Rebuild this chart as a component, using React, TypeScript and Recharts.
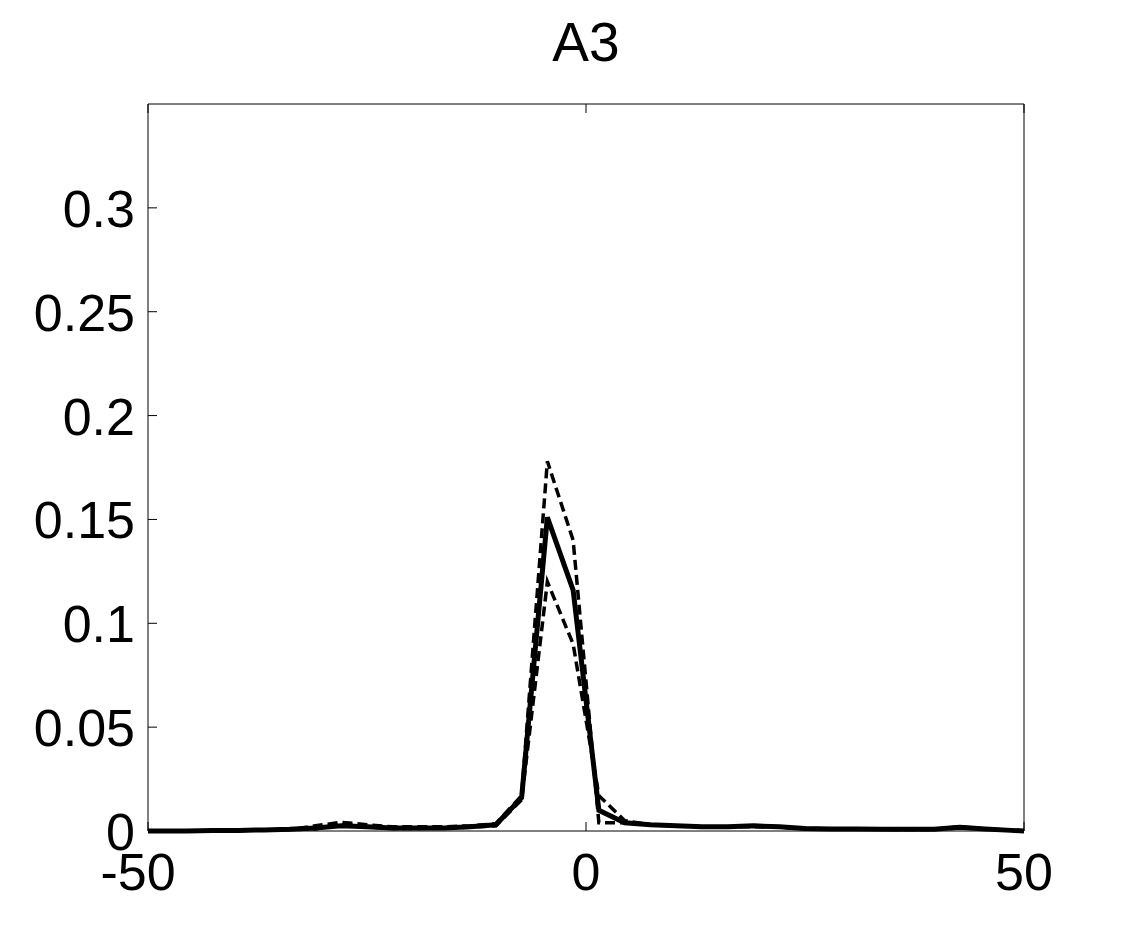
import { LineChart, Line, XAxis, YAxis } from 'recharts'

// sample positions along the x axis
const xs = [
  -50, -48.53, -45.59, -42.65, -39.71, -36.76, -33.82, -30.88, -27.94, -25.0, -22.06,
  -19.12, -16.18, -13.24, -10.29, -7.35, -4.41, -1.47, 1.47, 4.41, 7.35, 10.29, 13.24,
  16.18, 19.12, 22.06, 25.0, 27.94, 30.88, 33.82, 36.76, 39.71, 42.65, 45.59, 48.53, 50,
]

// solid curve
const meanVals = [
  0, 0, 0, 0.0002, 0.0003, 0.0005, 0.0008, 0.0015, 0.0025, 0.002, 0.0015,
  0.0015, 0.0015, 0.002, 0.003, 0.016, 0.151, 0.116, 0.01, 0.004, 0.003, 0.0025, 0.002,
  0.002, 0.0025, 0.002, 0.0012, 0.001, 0.001, 0.0008, 0.0008, 0.0008, 0.0018, 0.001, 0.0003, 0,
]

// dashed curve, higher peak
const upperVals = [
  0, 0, 0, 0.0002, 0.0003, 0.0004, 0.0007, 0.0025, 0.0042, 0.003, 0.002,
  0.002, 0.002, 0.0025, 0.0035, 0.017, 0.178, 0.14, 0.004, 0.004, 0.003, 0.0025, 0.002,
  0.002, 0.002, 0.0018, 0.001, 0.001, 0.0008, 0.0008, 0.0007, 0.0007, 0.0015, 0.001, 0.0003, 0,
]

// dashed curve, lower peak
const lowerVals = [
  0, 0, 0, 0.0002, 0.0003, 0.0005, 0.001, 0.001, 0.0035, 0.002, 0.0012,
  0.0012, 0.0015, 0.0018, 0.0025, 0.015, 0.12, 0.09, 0.017, 0.005, 0.003, 0.0025, 0.002,
  0.002, 0.0025, 0.002, 0.0012, 0.001, 0.001, 0.0008, 0.0008, 0.0008, 0.002, 0.001, 0.0003, 0,
]

const xTicks = [-50, 0, 50]
const yTicks = [0, 0.05, 0.1, 0.15, 0.2, 0.25, 0.3]
const yTickLabels = ['0', '0.05', '0.1', '0.15', '0.2', '0.25', '0.3']

const FONT = '"Liberation Sans", Arial, Helvetica, sans-serif'
const TICK_LEN = 9

const rows = xs.map((x, i) => ({
  x,
  mean: meanVals[i],
  upper: upperVals[i],
  lower: lowerVals[i],
}))

const BottomTick = ({ x, y, payload }: any) => (
  <g>
    <line x1={x} x2={x} y1={y} y2={y - TICK_LEN} stroke="#000" />
    <text
      x={payload.value < 0 ? x - 10 : x}
      y={y + 59}
      textAnchor="middle"
      fontSize={52}
      fontFamily={FONT}
      fill="#000"
    >
      {payload.value}
    </text>
  </g>
)

const TopTick = ({ x, y }: any) => (
  <line x1={x} x2={x} y1={y} y2={y + TICK_LEN} stroke="#000" />
)

const LeftTick = ({ x, y, payload }: any) => {
  const idx = yTicks.indexOf(payload.value)
  return (
    <g>
      <line x1={x} x2={x + TICK_LEN} y1={y} y2={y} stroke="#000" />
      <text
        x={x - 13}
        y={y + 19}
        textAnchor="end"
        fontSize={52}
        fontFamily={FONT}
        fill="#000"
      >
        {idx >= 0 ? yTickLabels[idx] : payload.value}
      </text>
    </g>
  )
}

const RightTick = ({ x, y }: any) => (
  <line x1={x} x2={x - TICK_LEN} y1={y} y2={y} stroke="#000" />
)

export default function App() {
  return (
    <div style={{ position: 'relative', width: 1132, height: 936, background: '#fff' }}>
      <style>{'body{margin:0;background:#fff}'}</style>
      <div
        style={{
          position: 'absolute',
          top: 15,
          left: 0,
          width: 1172,
          textAlign: 'center',
          fontFamily: FONT,
          fontSize: 55,
          lineHeight: '55px',
          color: '#000',
        }}
      >
        A3
      </div>
      <LineChart
        width={1132}
        height={936}
        data={rows}
        margin={{ top: 103, right: 100, bottom: 104, left: 0 }}
      >
        <XAxis
          xAxisId="bottom"
          dataKey="x"
          type="number"
          domain={[-50, 50]}
          ticks={xTicks}
          height={1}
          tickSize={0}
          tickMargin={0}
          tickLine={false}
          axisLine={{ stroke: '#000', strokeWidth: 1 }}
          tick={<BottomTick />}
          interval={0}
        />
        <XAxis
          xAxisId="top"
          orientation="top"
          dataKey="x"
          type="number"
          domain={[-50, 50]}
          ticks={xTicks}
          height={1}
          tickSize={0}
          tickMargin={0}
          tickLine={false}
          axisLine={{ stroke: '#000', strokeWidth: 1 }}
          tick={<TopTick />}
          interval={0}
        />
        <YAxis
          yAxisId="left"
          type="number"
          domain={[0, 0.35]}
          ticks={yTicks}
          width={148}
          tickSize={0}
          tickMargin={0}
          tickLine={false}
          axisLine={{ stroke: '#000', strokeWidth: 1 }}
          tick={<LeftTick />}
          interval={0}
        />
        <YAxis
          yAxisId="right"
          orientation="right"
          type="number"
          domain={[0, 0.35]}
          ticks={yTicks}
          width={8}
          tickSize={0}
          tickMargin={0}
          tickLine={false}
          axisLine={{ stroke: '#000', strokeWidth: 1 }}
          tick={<RightTick />}
          interval={0}
        />
        <Line
          xAxisId="bottom"
          yAxisId="left"
          type="linear"
          dataKey="upper"
          stroke="#000"
          strokeWidth={3.5}
          strokeDasharray="10 5"
          dot={false}
          isAnimationActive={false}
        />
        <Line
          xAxisId="bottom"
          yAxisId="left"
          type="linear"
          dataKey="lower"
          stroke="#000"
          strokeWidth={3.5}
          strokeDasharray="10 5"
          dot={false}
          isAnimationActive={false}
        />
        <Line
          xAxisId="bottom"
          yAxisId="left"
          type="linear"
          dataKey="mean"
          stroke="#000"
          strokeWidth={5}
          dot={false}
          isAnimationActive={false}
        />
      </LineChart>
    </div>
  )
}
